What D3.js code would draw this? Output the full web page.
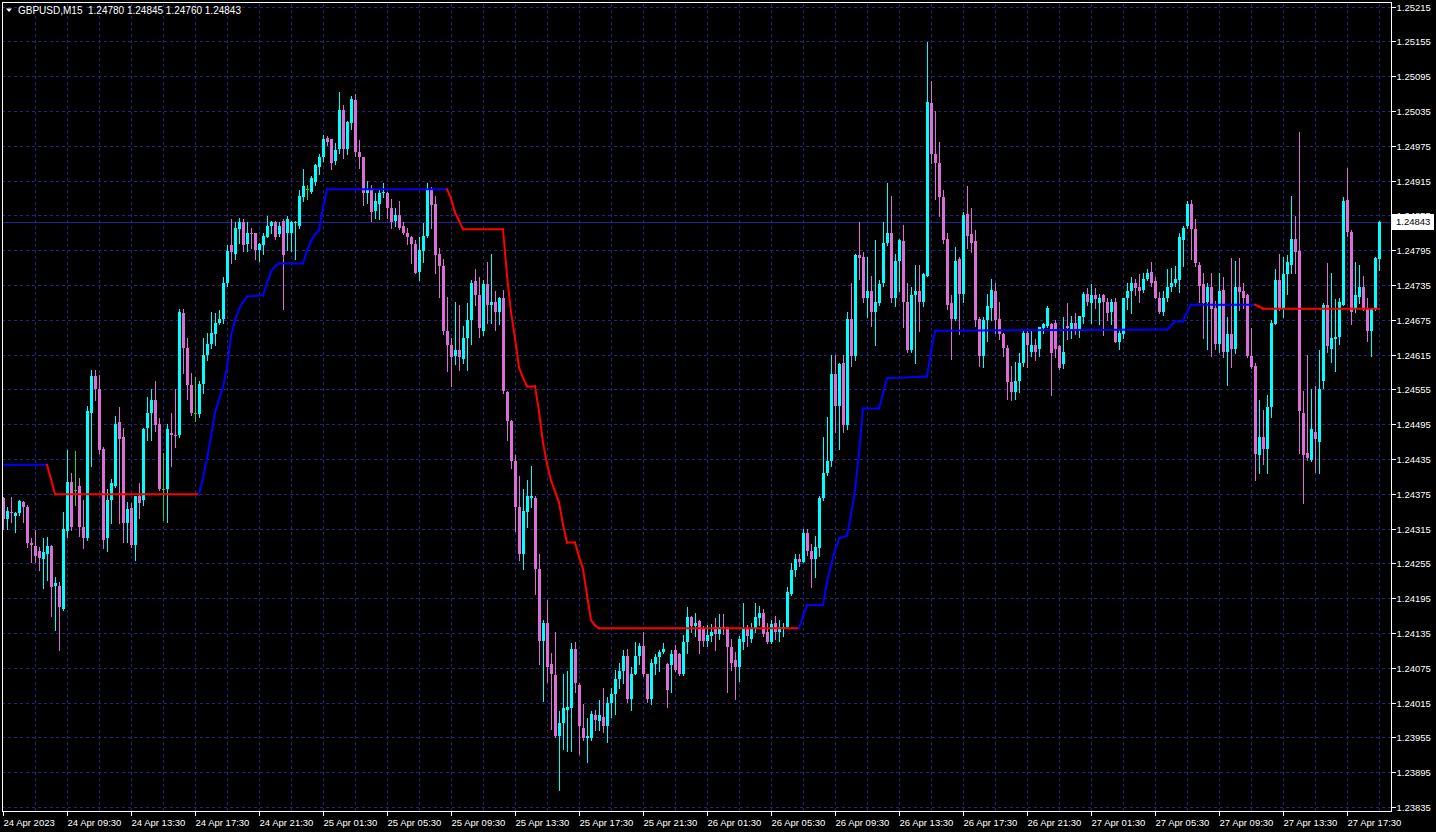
<!DOCTYPE html>
<html>
<head>
<meta charset="utf-8">
<script src="https://d3js.org/d3.v7.min.js"></script>
<style>
  html, body { margin: 0; padding: 0; background: #000; overflow: hidden; }
  svg { display: block; }
  text { font-family: "Liberation Sans", Arial, sans-serif; }
</style>
</head>
<body>
<div id="chart"></div>
<script>
const width = 1436;
const height = 832;

// header quote (open, high, low, close of the last bar)
const symbolName = 'GBPUSD,M15';
const lastQuote = ['1.24780', '1.24845', '1.24760', '1.24843'];
const lastPrice = 1.24843;

const priceTicks = [1.25215, 1.25155, 1.25095, 1.25035, 1.24975, 1.24915, 1.24855, 1.24795,
  1.24735, 1.24675, 1.24615, 1.24555, 1.24495, 1.24435, 1.24375, 1.24315, 1.24255, 1.24195,
  1.24135, 1.24075, 1.24015, 1.23955, 1.23895, 1.23835];

const timeLabels = ['24 Apr 2023', '24 Apr 09:30', '24 Apr 13:30', '24 Apr 17:30', '24 Apr 21:30',
  '25 Apr 01:30', '25 Apr 05:30', '25 Apr 09:30', '25 Apr 13:30', '25 Apr 17:30', '25 Apr 21:30',
  '26 Apr 01:30', '26 Apr 05:30', '26 Apr 09:30', '26 Apr 13:30', '26 Apr 17:30', '26 Apr 21:30',
  '27 Apr 01:30', '27 Apr 05:30', '27 Apr 09:30', '27 Apr 13:30', '27 Apr 17:30'];
const labelBars = [0, 16, 32, 48, 64, 80, 96, 112, 128, 144, 160, 176, 192, 208, 224, 240, 256,
  272, 288, 304, 320, 336];

// M15 candles, [open, high, low, close]
const candles = [
  [1.24367,1.24369,1.24315,1.24332],[1.24332,1.24352,1.24315,1.24346],[1.24343,1.24369,1.24326,1.24341],
  [1.24336,1.24343,1.24309,1.24341],[1.24341,1.24364,1.24339,1.24362],[1.24360,1.24362,1.24326,1.24352],
  [1.24352,1.24355,1.24283,1.24290],[1.24290,1.24298,1.24257,1.24286],[1.24285,1.24312,1.24257,1.24268],
  [1.24277,1.24283,1.24243,1.24265],[1.24263,1.24298,1.24212,1.24274],[1.24272,1.24300,1.24226,1.24285],
  [1.24285,1.24287,1.24165,1.24214],[1.24216,1.24231,1.24140,1.24221],[1.24216,1.24223,1.24105,1.24179],
  [1.24177,1.24343,1.24175,1.24315],[1.24310,1.24450,1.24300,1.24396],[1.24396,1.24410,1.24312,1.24317],
  [1.24381,1.24448,1.24355,1.24381],[1.24389,1.24403,1.24303,1.24317],[1.24317,1.24364,1.24281,1.24298],
  [1.24298,1.24527,1.24295,1.24517],[1.24515,1.24589,1.24423,1.24578],[1.24578,1.24588,1.24536,1.24556],
  [1.24556,1.24579,1.24446,1.24450],[1.24452,1.24455,1.24281,1.24295],[1.24298,1.24384,1.24277,1.24364],
  [1.24364,1.24400,1.24324,1.24393],[1.24389,1.24509,1.24386,1.24496],[1.24498,1.24524,1.24324,1.24470],
  [1.24472,1.24489,1.24291,1.24324],[1.24324,1.24360,1.24291,1.24348],[1.24350,1.24359,1.24283,1.24286],
  [1.24286,1.24372,1.24260,1.24371],[1.24371,1.24393,1.24334,1.24359],[1.24364,1.24488,1.24355,1.24486],
  [1.24488,1.24541,1.24467,1.24515],[1.24514,1.24555,1.24467,1.24536],[1.24536,1.24569,1.24484,1.24493],
  [1.24496,1.24505,1.24382,1.24384],[1.24384,1.24445,1.24329,1.24384],[1.24384,1.24496,1.24326,1.24486],
  [1.24479,1.24514,1.24423,1.24476],[1.24477,1.24556,1.24455,1.24474],[1.24476,1.24694,1.24472,1.24688],
  [1.24686,1.24693,1.24583,1.24627],[1.24627,1.24644,1.24539,1.24562],[1.24562,1.24583,1.24510,1.24514],
  [1.24514,1.24576,1.24501,1.24514],[1.24512,1.24570,1.24507,1.24565],[1.24565,1.24644,1.24548,1.24615],
  [1.24615,1.24653,1.24605,1.24634],[1.24634,1.24689,1.24627,1.24653],[1.24651,1.24686,1.24631,1.24670],
  [1.24670,1.24691,1.24668,1.24677],[1.24677,1.24748,1.24670,1.24738],[1.24738,1.24803,1.24734,1.24794],
  [1.24803,1.24849,1.24772,1.24791],[1.24789,1.24843,1.24780,1.24834],[1.24832,1.24851,1.24808,1.24844],
  [1.24844,1.24849,1.24794,1.24803],[1.24805,1.24843,1.24794,1.24825],[1.24825,1.24834,1.24798,1.24822],
  [1.24824,1.24825,1.24780,1.24796],[1.24796,1.24808,1.24777,1.24805],[1.24803,1.24824,1.24789,1.24820],
  [1.24818,1.24853,1.24817,1.24837],[1.24836,1.24846,1.24824,1.24844],[1.24844,1.24846,1.24815,1.24817],
  [1.24822,1.24843,1.24820,1.24836],[1.24846,1.24849,1.24694,1.24786],[1.24824,1.24853,1.24796,1.24849],
  [1.24824,1.24846,1.24794,1.24843],[1.24841,1.24846,1.24780,1.24843],[1.24837,1.24898,1.24834,1.24889],
  [1.24886,1.24935,1.24880,1.24905],[1.24900,1.24907,1.24884,1.24900],[1.24896,1.24922,1.24894,1.24920],
  [1.24912,1.24944,1.24908,1.24941],[1.24939,1.24961,1.24927,1.24956],[1.24955,1.24994,1.24949,1.24987],
  [1.24989,1.24991,1.24977,1.24982],[1.24986,1.24987,1.24935,1.24946],[1.24949,1.24979,1.24944,1.24968],
  [1.24970,1.25067,1.24963,1.25037],[1.25037,1.25046,1.24953,1.24970],[1.24970,1.25018,1.24961,1.25016],
  [1.25015,1.25061,1.25004,1.25056],[1.25054,1.25065,1.24958,1.24965],[1.24965,1.24984,1.24937,1.24955],
  [1.24955,1.24956,1.24872,1.24893],[1.24893,1.24915,1.24877,1.24898],[1.24898,1.24907,1.24846,1.24861],
  [1.24863,1.24894,1.24851,1.24879],[1.24875,1.24898,1.24849,1.24894],[1.24893,1.24910,1.24886,1.24896],
  [1.24894,1.24896,1.24851,1.24867],[1.24868,1.24884,1.24834,1.24844],[1.24846,1.24868,1.24837,1.24856],
  [1.24856,1.24880,1.24832,1.24834],[1.24836,1.24843,1.24822,1.24824],[1.24824,1.24834,1.24806,1.24817],
  [1.24818,1.24820,1.24772,1.24805],[1.24806,1.24812,1.24755,1.24756],[1.24758,1.24817,1.24743,1.24796],
  [1.24794,1.24841,1.24774,1.24820],[1.24820,1.24911,1.24818,1.24899],[1.24898,1.24903,1.24834,1.24872],
  [1.24874,1.24889,1.24755,1.24787],[1.24789,1.24798,1.24715,1.24768],[1.24768,1.24780,1.24651,1.24656],
  [1.24656,1.24715,1.24586,1.24631],[1.24631,1.24643,1.24560,1.24610],[1.24612,1.24705,1.24598,1.24622],
  [1.24622,1.24700,1.24589,1.24610],[1.24608,1.24665,1.24601,1.24644],[1.24643,1.24703,1.24589,1.24675],
  [1.24675,1.24744,1.24634,1.24739],[1.24741,1.24762,1.24701,1.24717],[1.24717,1.24748,1.24646,1.24660],
  [1.24656,1.24744,1.24649,1.24736],[1.24736,1.24775,1.24670,1.24700],[1.24700,1.24789,1.24670,1.24706],
  [1.24706,1.24725,1.24658,1.24688],[1.24688,1.24715,1.24668,1.24712],[1.24712,1.24727,1.24548,1.24553],
  [1.24551,1.24553,1.24467,1.24500],[1.24500,1.24503,1.24419,1.24431],[1.24431,1.24441,1.24310,1.24353],
  [1.24353,1.24406,1.24260,1.24272],[1.24272,1.24383,1.24245,1.24345],[1.24343,1.24398,1.24317,1.24371],
  [1.24367,1.24423,1.24353,1.24372],[1.24367,1.24371,1.24203,1.24245],[1.24246,1.24272,1.24081,1.24122],
  [1.24122,1.24158,1.24017,1.24153],[1.24153,1.24191,1.24051,1.24077],[1.24081,1.24101,1.23969,1.24064],
  [1.24062,1.24136,1.23956,1.23958],[1.23957,1.24000,1.23864,1.23979],[1.23979,1.24064,1.23935,1.24005],
  [1.24003,1.24069,1.23931,1.24008],[1.24005,1.24117,1.23931,1.24108],[1.24108,1.24119,1.24033,1.24048],
  [1.24046,1.24048,1.23926,1.23974],[1.23972,1.24012,1.23950,1.23954],[1.23954,1.23988,1.23912,1.23957],
  [1.23954,1.24000,1.23950,1.23995],[1.23993,1.24003,1.23967,1.23985],[1.23983,1.24019,1.23967,1.23993],
  [1.23991,1.24040,1.23964,1.23974],[1.23974,1.24024,1.23947,1.24014],[1.24014,1.24040,1.23991,1.24029],
  [1.24029,1.24072,1.23995,1.24055],[1.24055,1.24084,1.24040,1.24069],[1.24069,1.24105,1.24048,1.24096],
  [1.24096,1.24108,1.24016,1.24021],[1.24022,1.24077,1.24003,1.24065],[1.24065,1.24120,1.24064,1.24095],
  [1.24095,1.24117,1.24081,1.24112],[1.24112,1.24136,1.24060,1.24064],[1.24064,1.24065,1.24016,1.24021],
  [1.24021,1.24090,1.24012,1.24083],[1.24081,1.24098,1.24065,1.24093],[1.24093,1.24105,1.24069,1.24103],
  [1.24103,1.24117,1.24101,1.24107],[1.24081,1.24083,1.24008,1.24036],[1.24079,1.24105,1.24033,1.24098],
  [1.24105,1.24114,1.24069,1.24071],[1.24098,1.24101,1.24062,1.24064],[1.24064,1.24131,1.24062,1.24120],
  [1.24120,1.24179,1.24101,1.24162],[1.24162,1.24165,1.24136,1.24147],[1.24147,1.24169,1.24129,1.24152],
  [1.24155,1.24157,1.24101,1.24122],[1.24143,1.24147,1.24112,1.24122],[1.24122,1.24148,1.24112,1.24131],
  [1.24129,1.24150,1.24122,1.24136],[1.24145,1.24160,1.24105,1.24134],[1.24134,1.24167,1.24124,1.24146],
  [1.24146,1.24167,1.24133,1.24143],[1.24145,1.24146,1.24034,1.24110],[1.24110,1.24124,1.24072,1.24084],
  [1.24088,1.24103,1.24022,1.24077],[1.24076,1.24129,1.24053,1.24124],[1.24120,1.24186,1.24108,1.24141],
  [1.24143,1.24148,1.24112,1.24129],[1.24124,1.24153,1.24120,1.24143],[1.24143,1.24186,1.24136,1.24162],
  [1.24160,1.24181,1.24148,1.24169],[1.24169,1.24177,1.24129,1.24133],[1.24136,1.24153,1.24117,1.24120],
  [1.24120,1.24157,1.24117,1.24150],[1.24153,1.24165,1.24124,1.24136],[1.24136,1.24158,1.24122,1.24145],
  [1.24145,1.24152,1.24129,1.24146],[1.24146,1.24215,1.24145,1.24205],[1.24203,1.24255,1.24201,1.24243],
  [1.24243,1.24272,1.24234,1.24262],[1.24263,1.24272,1.24250,1.24257],[1.24258,1.24315,1.24257,1.24307],
  [1.24307,1.24315,1.24270,1.24276],[1.24276,1.24288,1.24214,1.24262],[1.24262,1.24303,1.24232,1.24283],
  [1.24281,1.24371,1.24267,1.24367],[1.24367,1.24472,1.24364,1.24410],[1.24410,1.24508,1.24408,1.24432],
  [1.24432,1.24614,1.24423,1.24581],[1.24581,1.24614,1.24482,1.24527],[1.24527,1.24600,1.24452,1.24598],
  [1.24600,1.24614,1.24482,1.24494],[1.24494,1.24688,1.24486,1.24677],[1.24677,1.24739,1.24596,1.24612],
  [1.24612,1.24789,1.24605,1.24787],[1.24787,1.24844,1.24746,1.24782],[1.24784,1.24791,1.24706,1.24712],
  [1.24712,1.24784,1.24679,1.24725],[1.24725,1.24751,1.24665,1.24688],[1.24688,1.24813,1.24631,1.24706],
  [1.24703,1.24743,1.24701,1.24736],[1.24739,1.24844,1.24734,1.24808],[1.24808,1.24910,1.24803,1.24825],
  [1.24825,1.24888,1.24706,1.24712],[1.24712,1.24789,1.24698,1.24777],[1.24777,1.24815,1.24725,1.24812],
  [1.24810,1.24839,1.24663,1.24706],[1.24706,1.24739,1.24620,1.24622],[1.24622,1.24731,1.24620,1.24718],
  [1.24718,1.24770,1.24600,1.24725],[1.24725,1.24770,1.24656,1.24706],[1.24706,1.24755,1.24698,1.24753],
  [1.24751,1.25153,1.24750,1.25051],[1.25049,1.25087,1.24946,1.24960],[1.24960,1.25035,1.24884,1.24946],
  [1.24946,1.24982,1.24853,1.24887],[1.24887,1.24898,1.24808,1.24812],[1.24815,1.24824,1.24694,1.24700],
  [1.24703,1.24718,1.24608,1.24677],[1.24677,1.24801,1.24674,1.24777],[1.24779,1.24784,1.24651,1.24720],
  [1.24720,1.24860,1.24706,1.24856],[1.24858,1.24905,1.24799,1.24820],[1.24822,1.24868,1.24791,1.24808],
  [1.24810,1.24830,1.24665,1.24675],[1.24677,1.24680,1.24596,1.24613],[1.24612,1.24679,1.24593,1.24674],
  [1.24674,1.24720,1.24638,1.24698],[1.24696,1.24746,1.24674,1.24727],[1.24725,1.24738,1.24653,1.24675],
  [1.24677,1.24706,1.24641,1.24650],[1.24650,1.24653,1.24612,1.24627],[1.24627,1.24631,1.24539,1.24567],
  [1.24567,1.24596,1.24536,1.24551],[1.24551,1.24603,1.24539,1.24570],[1.24570,1.24617,1.24551,1.24600],
  [1.24600,1.24656,1.24596,1.24653],[1.24653,1.24656,1.24593,1.24631],[1.24619,1.24656,1.24612,1.24632],
  [1.24632,1.24641,1.24605,1.24620],[1.24624,1.24663,1.24612,1.24662],[1.24660,1.24670,1.24653,1.24667],
  [1.24665,1.24698,1.24663,1.24696],[1.24667,1.24669,1.24545,1.24617],[1.24670,1.24674,1.24610,1.24625],
  [1.24629,1.24632,1.24590,1.24591],[1.24598,1.24679,1.24591,1.24619],[1.24665,1.24703,1.24641,1.24660],
  [1.24658,1.24682,1.24644,1.24669],[1.24669,1.24686,1.24651,1.24655],[1.24655,1.24682,1.24646,1.24681],
  [1.24679,1.24722,1.24670,1.24720],[1.24720,1.24729,1.24700,1.24705],[1.24703,1.24736,1.24670,1.24717],
  [1.24718,1.24730,1.24696,1.24710],[1.24703,1.24720,1.24667,1.24713],[1.24718,1.24720,1.24648,1.24705],
  [1.24706,1.24712,1.24674,1.24686],[1.24688,1.24710,1.24667,1.24706],[1.24706,1.24713,1.24636,1.24637],
  [1.24636,1.24658,1.24625,1.24653],[1.24651,1.24713,1.24643,1.24712],[1.24712,1.24738,1.24694,1.24724],
  [1.24724,1.24748,1.24686,1.24738],[1.24738,1.24746,1.24717,1.24729],[1.24731,1.24753,1.24706,1.24724],
  [1.24726,1.24755,1.24722,1.24746],[1.24746,1.24763,1.24744,1.24756],[1.24758,1.24775,1.24734,1.24738],
  [1.24741,1.24748,1.24712,1.24713],[1.24713,1.24722,1.24686,1.24688],[1.24689,1.24725,1.24684,1.24713],
  [1.24712,1.24763,1.24708,1.24732],[1.24731,1.24765,1.24725,1.24739],[1.24738,1.24768,1.24734,1.24746],
  [1.24744,1.24824,1.24722,1.24817],[1.24813,1.24836,1.24767,1.24834],[1.24836,1.24879,1.24834,1.24875],
  [1.24875,1.24882,1.24780,1.24832],[1.24832,1.24848,1.24768,1.24772],[1.24770,1.24775,1.24705,1.24734],
  [1.24736,1.24755,1.24644,1.24703],[1.24705,1.24739,1.24624,1.24732],[1.24732,1.24755,1.24613,1.24694],
  [1.24696,1.24708,1.24625,1.24634],[1.24634,1.24755,1.24619,1.24725],[1.24727,1.24748,1.24610,1.24619],
  [1.24619,1.24680,1.24562,1.24651],[1.24651,1.24782,1.24593,1.24625],[1.24625,1.24777,1.24617,1.24731],
  [1.24732,1.24782,1.24691,1.24722],[1.24725,1.24738,1.24696,1.24713],[1.24718,1.24720,1.24610,1.24612],
  [1.24612,1.24660,1.24591,1.24593],[1.24595,1.24600,1.24398,1.24443],[1.24441,1.24536,1.24410,1.24472],
  [1.24472,1.24519,1.24427,1.24453],[1.24452,1.24545,1.24410,1.24525],[1.24524,1.24675,1.24507,1.24670],
  [1.24668,1.24763,1.24667,1.24743],[1.24743,1.24789,1.24691,1.24693],[1.24693,1.24784,1.24679,1.24753],
  [1.24753,1.24786,1.24720,1.24774],[1.24770,1.24889,1.24756,1.24815],[1.24815,1.24853,1.24756,1.24791],
  [1.24794,1.24998,1.24446,1.24517],[1.24515,1.24553,1.24359,1.24441],[1.24445,1.24614,1.24434,1.24436],
  [1.24434,1.24555,1.24431,1.24486],[1.24482,1.24560,1.24412,1.24470],[1.24465,1.24622,1.24410,1.24555],
  [1.24569,1.24703,1.24557,1.24701],[1.24701,1.24772,1.24620,1.24629],[1.24625,1.24755,1.24603,1.24643],
  [1.24641,1.24710,1.24586,1.24646],[1.24646,1.24712,1.24634,1.24705],[1.24701,1.24886,1.24700,1.24880],
  [1.24882,1.24937,1.24820,1.24827],[1.24827,1.24830,1.24668,1.24688],[1.24694,1.24774,1.24688,1.24717],
  [1.24715,1.24770,1.24703,1.24732],[1.24732,1.24751,1.24691,1.24693],[1.24694,1.24712,1.24638,1.24655],
  [1.24655,1.24696,1.24612,1.24694],[1.24693,1.24784,1.24691,1.24782],[1.24780,1.24845,1.24760,1.24843]
];

// trailing stop indicator: [bar, price, 'u'|'d'] - colour of the segment ending at that point
const trendLine = [
  [0,1.24425,'u'],[11,1.24425,'u'],[12,1.24400,'d'],[13,1.24374,'d'],[49,1.24374,'d'],
  [50,1.24402,'u'],[51,1.24436,'u'],[52,1.24474,'u'],[53,1.24515,'u'],[54,1.24538,'u'],
  [55,1.24558,'u'],[56,1.24594,'u'],[57,1.24646,'u'],[58,1.24674,'u'],[59,1.24693,'u'],
  [60,1.24706,'u'],[61,1.24715,'u'],[65,1.24717,'u'],[66,1.24738,'u'],[67,1.24758,'u'],
  [68,1.24767,'u'],[69,1.24772,'u'],[75,1.24772,'u'],[76,1.24794,'u'],[77,1.24810,'u'],
  [78,1.24822,'u'],[79,1.24829,'u'],[80,1.24868,'u'],[81,1.24900,'u'],[111,1.24900,'u'],
  [112,1.24884,'d'],[113,1.24860,'d'],[114,1.24846,'d'],[115,1.24831,'d'],[125,1.24831,'d'],
  [126,1.24751,'d'],[127,1.24688,'d'],[128,1.24643,'d'],[129,1.24593,'d'],[130,1.24575,'d'],
  [131,1.24560,'d'],[133,1.24560,'d'],[134,1.24517,'d'],[135,1.24463,'d'],[136,1.24427,'d'],
  [137,1.24398,'d'],[138,1.24379,'d'],[139,1.24360,'d'],[140,1.24322,'d'],[141,1.24291,'d'],
  [143,1.24291,'d'],[144,1.24267,'d'],[145,1.24245,'d'],[146,1.24200,'d'],[147,1.24157,'d'],
  [148,1.24148,'d'],[149,1.24143,'d'],[199,1.24143,'d'],
  [200,1.24164,'u'],[201,1.24183,'u'],[205,1.24183,'u'],[206,1.24222,'u'],[207,1.24253,'u'],
  [208,1.24277,'u'],[209,1.24298,'u'],[211,1.24303,'u'],[212,1.24338,'u'],[213,1.24381,'u'],
  [214,1.24445,'u'],[215,1.24522,'u'],[219,1.24522,'u'],[220,1.24548,'u'],[221,1.24574,'u'],
  [231,1.24577,'u'],[232,1.24620,'u'],[233,1.24656,'u'],[291,1.24658,'u'],[292,1.24665,'u'],
  [293,1.24672,'u'],[295,1.24672,'u'],[296,1.24688,'u'],[297,1.24701,'u'],[313,1.24701,'u'],
  [314,1.24698,'d'],[315,1.24694,'d'],[344,1.24694,'d']
];

const plot = { left: 2, right: 1391, top: 3, bottom: 811 };
const colors = {
  bg: '#000000', up: '#00ffff', down: '#da70d6', doji: '#32cd32',
  grid: '#24247a', frame: '#ffffff', trendUp: '#0000ff', trendDown: '#ff0000', bidLine: '#22229a'
};

const svg = d3.select('#chart').append('svg')
  .attr('width', width).attr('height', height)
  .style('background', colors.bg);

const xScale = d3.scaleLinear().domain([0, candles.length - 1]).range([3, 1379]);
const yScale = d3.scaleLinear().domain([1.23835, 1.25215]).range([807, 6.5]);

// grid
const gridH = svg.append('g').attr('class', 'grid-h')
  .attr('transform', `translate(${plot.left}, 0)`)
  .call(d3.axisLeft(yScale).tickValues(priceTicks).tickFormat('').tickSize(-(plot.right - plot.left)));
const gridV = svg.append('g').attr('class', 'grid-v')
  .attr('transform', `translate(0, ${plot.bottom})`)
  .call(d3.axisBottom(xScale).tickValues(d3.range(8, candles.length, 8)).tickFormat('').tickSize(-(plot.bottom - plot.top)));
svg.selectAll('.grid-h, .grid-v').selectAll('.domain').remove();
svg.selectAll('.grid-h line, .grid-v line')
  .attr('stroke', colors.grid)
  .attr('stroke-dasharray', '3,3')
  .attr('shape-rendering', 'crispEdges');
gridH.selectAll('.tick').attr('transform', d => `translate(0, ${Math.round(yScale(d)) + 0.5})`);
gridV.selectAll('.tick').attr('transform', d => `translate(${Math.round(xScale(d)) + 0.5}, 0)`);

// bid line
svg.append('line')
  .attr('x1', plot.left).attr('x2', plot.right)
  .attr('y1', Math.round(yScale(lastPrice)) + 0.5).attr('y2', Math.round(yScale(lastPrice)) + 0.5)
  .attr('stroke', colors.bidLine).attr('shape-rendering', 'crispEdges');

// candles
const candleColor = d => d[3] > d[0] ? colors.up : (d[3] < d[0] ? colors.down : colors.doji);
const bars = svg.append('g').attr('class', 'candles').attr('shape-rendering', 'crispEdges');

bars.selectAll('rect.wick')
  .data(candles)
  .join('rect')
  .attr('class', 'wick')
  .attr('x', (d, i) => Math.round(xScale(i)))
  .attr('y', d => Math.round(yScale(d[1])))
  .attr('width', 1)
  .attr('height', d => Math.max(1, Math.round(yScale(d[2])) - Math.round(yScale(d[1])) + 1))
  .attr('fill', candleColor);

bars.selectAll('rect.body')
  .data(candles)
  .join('rect')
  .attr('class', 'body')
  .attr('x', (d, i) => Math.round(xScale(i)) - 1)
  .attr('y', d => Math.round(yScale(Math.max(d[0], d[3]))))
  .attr('width', 3)
  .attr('height', d => Math.max(1, Math.round(yScale(Math.min(d[0], d[3]))) - Math.round(yScale(Math.max(d[0], d[3])))))
  .attr('fill', candleColor);

// trend indicator, drawn segment by segment
const trendSegs = d3.pairs(trendLine);
const line = d3.line().x(d => xScale(d[0])).y(d => yScale(d[1]));
svg.append('g').attr('class', 'trend')
  .selectAll('path')
  .data(trendSegs)
  .join('path')
  .attr('d', d => line(d))
  .attr('fill', 'none')
  .attr('stroke', d => d[1][2] === 'u' ? colors.trendUp : colors.trendDown)
  .attr('stroke-width', 2)
  .attr('stroke-linecap', 'square');

// frame
svg.append('rect')
  .attr('x', plot.left + 0.5).attr('y', plot.top - 0.5)
  .attr('width', plot.right - plot.left).attr('height', plot.bottom - plot.top + 1)
  .attr('fill', 'none').attr('stroke', colors.frame).attr('shape-rendering', 'crispEdges');

// price axis
const yAxis = svg.append('g')
  .attr('transform', `translate(${plot.right + 0.5}, 0)`)
  .call(d3.axisRight(yScale).tickValues(priceTicks).tickFormat(d3.format('.5f')).tickSize(4).tickPadding(1));
yAxis.select('.domain').remove();
yAxis.selectAll('.tick').attr('transform', d => `translate(0, ${Math.round(yScale(d)) + 0.5})`);
yAxis.selectAll('line').attr('stroke', colors.frame).attr('shape-rendering', 'crispEdges');
yAxis.selectAll('text').attr('fill', '#fff').style('font-size', '9.5px').attr('dy', '0.32em');

// time axis
const xAxis = svg.append('g')
  .attr('transform', `translate(0, ${plot.bottom + 0.5})`)
  .call(d3.axisBottom(xScale).tickValues(labelBars).tickFormat((d, i) => timeLabels[i]).tickSize(4).tickPadding(4));
xAxis.select('.domain').remove();
xAxis.selectAll('.tick').attr('transform', d => `translate(${Math.round(xScale(d)) + 0.5}, 0)`);
xAxis.selectAll('line').attr('stroke', colors.frame).attr('shape-rendering', 'crispEdges');
xAxis.selectAll('text').attr('fill', '#fff').style('font-size', '9.5px').attr('text-anchor', 'start').attr('x', 0);

// current price label
const yLast = Math.round(yScale(lastPrice));
svg.append('rect')
  .attr('x', plot.right + 1).attr('y', yLast - 8)
  .attr('width', 42).attr('height', 16)
  .attr('fill', '#fff');
svg.append('text')
  .attr('x', plot.right + 5).attr('y', yLast)
  .attr('dy', '0.35em')
  .attr('fill', '#000').style('font-size', '9.5px')
  .text(lastPrice.toFixed(5));

// title
svg.append('path').attr('d', 'M6,8.5L12,8.5L9,12Z').attr('fill', '#fff');
svg.append('text')
  .attr('x', 18).attr('y', 14)
  .attr('fill', '#fff').style('font-size', '10px')
  .attr('xml:space', 'preserve')
  .text(`${symbolName}  ${lastQuote.join(' ')}`);
</script>
</body>
</html>
